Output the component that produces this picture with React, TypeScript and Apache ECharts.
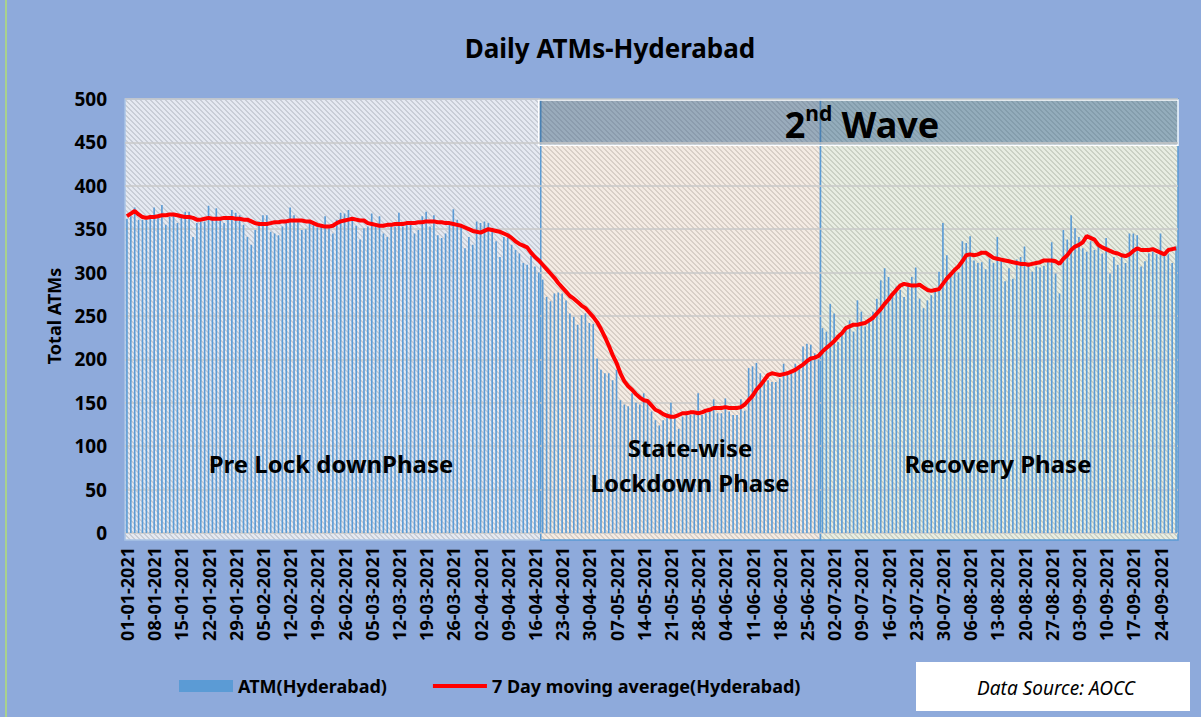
import React, { useEffect, useRef } from "react";
import * as echarts from "echarts";

// ---------- DATA ----------
const START_DAY = "2021-01-01";

const atmValues: number[] = [
  362, 365, 375, 361, 361, 361, 362, 375, 366, 378,
  355, 364, 368, 357, 365, 370, 370, 341, 357, 359,
  359, 377, 364, 374, 364, 357, 364, 372, 369, 366,
  355, 341, 332, 349, 359, 366, 366, 347, 345, 343,
  353, 357, 375, 366, 358, 349, 350, 360, 356, 352,
  353, 365, 351, 345, 361, 369, 368, 372, 361, 354,
  338, 351, 353, 368, 355, 365, 345, 341, 353, 353,
  369, 353, 357, 357, 345, 349, 365, 370, 353, 366,
  343, 340, 345, 357, 373, 361, 353, 328, 341, 332,
  359, 357, 359, 357, 351, 336, 318, 341, 340, 332,
  326, 322, 311, 309, 319, 307, 300, 292, 272, 267,
  276, 277, 276, 268, 253, 249, 240, 251, 253, 242,
  241, 201, 188, 184, 184, 176, 188, 153, 148, 146,
  161, 150, 148, 161, 150, 140, 130, 124, 130, 138,
  150, 132, 120, 134, 136, 136, 138, 161, 136, 138,
  141, 154, 138, 138, 155, 140, 136, 136, 154, 141,
  190, 192, 196, 184, 176, 176, 174, 174, 178, 195,
  182, 186, 195, 192, 215, 218, 217, 207, 200, 236,
  232, 264, 253, 220, 228, 238, 245, 232, 268, 255,
  238, 245, 255, 270, 291, 305, 295, 276, 284, 280,
  272, 284, 295, 306, 270, 259, 268, 274, 282, 301,
  357, 320, 300, 303, 300, 336, 334, 342, 314, 311,
  312, 304, 316, 311, 341, 314, 290, 305, 293, 315,
  318, 330, 309, 301, 307, 306, 308, 314, 335, 299,
  276, 349, 338, 366, 351, 341, 328, 324, 336, 326,
  330, 322, 340, 299, 318, 309, 320, 311, 345, 345,
  343, 307, 313, 322, 324, 321, 345, 322, 321, 311,
  330,
];

const movingAverage: number[] = [
  365, 368, 371, 367, 364, 363, 364, 364, 365, 366,
  366, 367, 367, 366, 365, 364, 364, 363, 361, 361,
  362, 363, 362, 362, 362, 363, 363, 363, 362, 362,
  361, 361, 359, 357, 356, 356, 356, 357, 358, 358,
  359, 359, 360, 360, 360, 360, 359, 359, 357, 355,
  354, 353, 353, 354, 357, 359, 360, 361, 362, 361,
  360, 360, 357, 356, 355, 354, 354, 355, 355, 356,
  356, 356, 357, 357, 357, 358, 358, 359, 359, 359,
  358, 358, 357, 357, 356, 355, 354, 352, 350, 348,
  347, 346, 348, 350, 349, 348, 347, 345, 343, 340,
  336, 333, 331, 329, 323, 318, 314, 309, 304, 299,
  294, 288, 283, 278, 273, 270, 266, 262, 259, 254,
  249, 243, 235, 226, 216, 205, 196, 184, 175, 169,
  165, 160, 156, 153, 152, 147, 142, 140, 137, 135,
  134, 134, 136, 138, 138, 139, 139, 138, 139, 141,
  142, 144, 144, 144, 145, 144, 144, 144, 145, 148,
  153, 158, 165, 170, 176, 182, 184, 183, 182, 183,
  184, 186, 188, 191, 194, 198, 201, 202, 204, 209,
  213, 217, 221, 226, 230, 236, 238, 240, 240, 241,
  242, 245, 248, 253, 258, 264, 269, 275, 280, 285,
  287, 286, 285, 285, 286, 283, 280, 279, 280, 281,
  287, 293, 298, 303, 307, 313, 320, 321, 320, 321,
  323, 323, 320, 317, 316, 315, 314, 313, 312, 311,
  310, 310, 309, 310, 311, 312, 314, 314, 314, 313,
  310, 316, 320, 326, 330, 332, 335, 342, 340, 338,
  332, 329, 327, 325, 323, 322, 320, 319, 321, 325,
  328, 326, 326, 326, 327, 325, 323, 321, 326, 327,
  328,
];

const seriesNames = ["ATM(Hyderabad)", "7 Day moving average(Hyderabad)"];
const yTickMax = 500;
const yTickStep = 50;

// phases: first / last day index of each shaded band
const phaseNames = ["Pre Lock downPhase", "State-wise\nLockdown Phase", "Recovery Phase"];
const phaseStart = [0, 107, 179];
const phaseEnd = [106, 178, 270];

function buildDates(start: string, n: number): string[] {
  const out: string[] = [];
  const d0 = new Date(start + "T00:00:00Z");
  for (let i = 0; i < n; i++) {
    const d = new Date(d0.getTime() + i * 86400000);
    const dd = String(d.getUTCDate()).padStart(2, "0");
    const mm = String(d.getUTCMonth() + 1).padStart(2, "0");
    out.push(`${dd}-${mm}-${d.getUTCFullYear()}`);
  }
  return out;
}

function hatch(base: string, stripe: string) {
  const s = 5;
  const c = document.createElement("canvas");
  c.width = s;
  c.height = s;
  const g = c.getContext("2d")!;
  g.fillStyle = base;
  g.fillRect(0, 0, s, s);
  g.fillStyle = stripe;
  for (let i = 0; i < s; i++) {
    g.fillRect(i, i, 1, 1);
    g.fillRect((i + 1) % s, i, 1, 1);
  }
  return { image: c, repeat: "repeat", imageWidth: s, imageHeight: s } as any;
}

const FONT = "'Noto Sans', 'Open Sans', sans-serif";

export default function App() {
  const ref = useRef<HTMLDivElement>(null);

  useEffect(() => {
    if (!ref.current) return;
    const chart = echarts.init(ref.current, undefined, { renderer: "svg" });
    const dates = buildDates(START_DAY, atmValues.length);

    const fills = [
      hatch("#e5e9f1", "#c8cdd6"),
      hatch("#f4ebe3", "#d8cfc7"),
      hatch("#e8ede2", "#cbd1c5"),
    ];
    const strokes = ["#a9c4e6", "#5b9bd5", "#5b9bd5"];

    const bandData = phaseStart.map((s, i) => [s, phaseEnd[i], yTickMax, -8, i]);
    bandData.push([phaseStart[1], phaseEnd[2], yTickMax, 448, 3]);

    const labelText = (x: number, y: number, text: string, size: number, extra: any = {}) => ({
      type: "text",
      z: 100,
      x,
      y,
      style: {
        text,
        textAlign: "center",
        textVerticalAlign: "middle",
        fontFamily: FONT,
        fontWeight: "bold",
        fontSize: size,
        fill: "#000",
        ...extra,
      },
    });

    const option: any = {
      animation: false,
      backgroundColor: "#8eaadb",
      textStyle: { fontFamily: FONT },
      title: {
        text: "Daily ATMs-Hyderabad",
        left: 605,
        top: 30,
        textAlign: "center",
        textStyle: { fontFamily: FONT, fontWeight: "bold", fontSize: 26, color: "#000" },
      },
      grid: { left: 125, right: 23, top: 99, bottom: 184 },
      legend: {
        data: [
          { name: seriesNames[0], icon: "rect" },
          { name: seriesNames[1], icon: "path://M0,0H54V4H0Z" },
        ],
        left: 174,
        top: 672,
        itemWidth: 54,
        itemHeight: 12,
        itemGap: 46,
        textStyle: { fontFamily: FONT, fontWeight: "bold", fontSize: 18, color: "#000" },
      },
      xAxis: {
        type: "category",
        data: dates,
        boundaryGap: true,
        axisTick: { show: false },
        axisLine: { show: false },
        axisLabel: {
          interval: 6,
          rotate: 90,
          margin: 14,
          fontFamily: FONT,
          fontWeight: "bold",
          fontSize: 18,
          color: "#000",
        },
      },
      yAxis: {
        type: "value",
        min: 0,
        max: yTickMax,
        interval: yTickStep,
        z: 1,
        name: "Total ATMs",
        nameLocation: "middle",
        nameRotate: 90,
        nameGap: 62,
        nameTextStyle: { fontFamily: FONT, fontWeight: "bold", fontSize: 18, color: "#000" },
        axisLine: { show: false },
        axisTick: { show: false },
        axisLabel: { margin: 18, fontFamily: FONT, fontWeight: "bold", fontSize: 19, color: "#000" },
        splitLine: { lineStyle: { color: "#c8c8c8", width: 1.5 } },
      },
      series: [
        {
          type: "custom",
          silent: true,
          z: 0,
          clip: false,
          data: bandData,
          encode: { x: [0, 1], y: [2, 3] },
          renderItem: (params: any, api: any) => {
            const kind = api.value(4);
            const bw = api.size([1, 0])[0];
            const p0 = api.coord([api.value(0), api.value(2)]);
            const p1 = api.coord([api.value(1), api.value(3)]);
            let x0 = p0[0] - bw / 2;
            const x1 = p1[0] + bw / 2;
            if (kind === 3) {
              x0 -= 2;
              return {
                type: "rect",
                shape: { x: x0, y: p0[1] + 1, width: x1 - x0, height: p1[1] - p0[1] },
                style: { fill: "rgba(55,100,145,0.48)", stroke: "#ffffff", lineWidth: 1.5 },
              };
            }
            return {
              type: "rect",
              shape: { x: x0, y: p0[1], width: x1 - x0, height: p1[1] - p0[1] },
              style: { fill: fills[kind], stroke: strokes[kind], lineWidth: 1.5 },
            };
          },
          tooltip: { show: false },
        },
        {
          name: seriesNames[0],
          type: "bar",
          data: atmValues,
          barWidth: "42%",
          itemStyle: { color: "#5b9bd5" },
          z: 2,
        },
        {
          name: seriesNames[1],
          type: "line",
          data: movingAverage,
          symbol: "none",
          lineStyle: { color: "#ff0000", width: 4 },
          itemStyle: { color: "#ff0000" },
          z: 3,
        },
      ],
      graphic: [
        {
          type: "line",
          z: 100,
          shape: { x1: 6, y1: 0, x2: 6, y2: 717 },
          style: { stroke: "#a9d18e", lineWidth: 2 },
        },
        labelText(331, 463, phaseNames[0], 24),
        labelText(690, 465, phaseNames[1], 24, { lineHeight: 35 }),
        labelText(998, 463, phaseNames[2], 24),
        {
          type: "text",
          z: 100,
          x: 862,
          y: 124,
          style: {
            text: "{a|2}{b|nd}{a| Wave}",
            textAlign: "center",
            textVerticalAlign: "middle",
            fill: "#000",
            rich: {
              a: { fontFamily: FONT, fontWeight: "bold", fontSize: 36, lineHeight: 44, fill: "#000" },
              b: { fontFamily: FONT, fontWeight: "bold", fontSize: 21, lineHeight: 44, verticalAlign: "top", padding: [0, 0, 16, 0], fill: "#000" },
            },
          },
        },
        {
          type: "rect",
          z: 100,
          shape: { x: 916, y: 662, width: 274, height: 49 },
          style: { fill: "#ffffff" },
        },
        {
          type: "text",
          z: 101,
          x: 1056,
          y: 688,
          style: {
            text: "Data Source: AOCC",
            textAlign: "center",
            textVerticalAlign: "middle",
            fontFamily: FONT,
            fontStyle: "italic",
            fontSize: 19,
            fill: "#000",
          },
        },
      ],
    };
    chart.setOption(option);
    return () => chart.dispose();
  }, []);

  return (
    <div
      ref={ref}
      style={{ position: "fixed", left: 0, top: 0, width: "1201px", height: "717px" }}
    />
  );
}
